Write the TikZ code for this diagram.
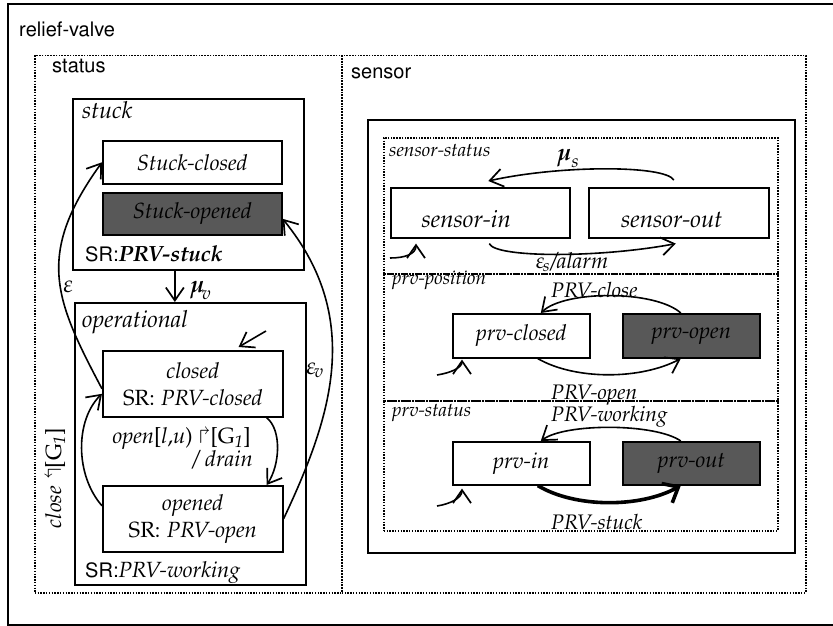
\documentclass[tikz,border=0pt]{standalone}
\usepackage[T1]{fontenc}
\usepackage{amsmath,amssymb}
\usepackage[sc]{mathpazo}
\usepackage{helvet}
\usetikzlibrary{arrows.meta}

\definecolor{stategray}{RGB}{88,88,88}

% font shortcuts
\newcommand\fSans{\fontsize{20}{23}\selectfont\sffamily}
\newcommand\fState{\fontsize{22}{27}\selectfont}
\newcommand\fBig{\fontsize{24}{28}\selectfont\itshape}
\newcommand\fReg{\fontsize{23.5}{28}\selectfont\itshape}
\newcommand\fSmall{\fontsize{19}{22}\selectfont\itshape}
\newcommand\fLab{\fontsize{22}{26}\selectfont}
\newcommand\fTr{\fontsize{21}{25}\selectfont\itshape}
\newcommand\fSym{\fontsize{24}{28}\selectfont}

\tikzset{
  region/.style={draw, line width=1.5pt, dash pattern=on 1.5pt off 1.3pt,
    inner sep=0pt, anchor=north west},
  frame/.style={draw, line width=1.7pt, inner sep=0pt, anchor=north west},
  state/.style={draw, line width=1.6pt, fill=white, inner sep=0pt,
    anchor=north west, align=center, font=\fState},
  darkstate/.style={state, fill=stategray},
  tr/.style={line width=1.6pt,
    -{Straight Barb[length=13pt,width=18pt,line width=1.7pt]}},
  thicktr/.style={line width=3.6pt,
    -{Straight Barb[length=13pt,width=22pt,line width=3.6pt]}},
  lab/.style={inner sep=0pt, anchor=base west},
}

\begin{document}
\begin{tikzpicture}[x=1pt,y=-1pt]
\useasboundingbox (0,0) rectangle (833,626);

% outer frame (runs off the right and bottom edges)
\begin{scope}
  \clip (0,0) rectangle (833,626);
  \draw[line width=1.6pt] (8,4) rectangle (900,624.8);
\end{scope}
\node[lab, font=\fSans] (relief) at (19,37) {relief-valve};

% orthogonal regions
\node[region, minimum width=307, minimum height=537] (status) at (34,55) {};
\node[region, minimum width=464, minimum height=537] (sensorreg) at (341,55) {};
\node[lab, font=\fSans] (statuslab) at (52,73) {status};
\node[lab, font=\fSans] (sensorlab) at (351,78) {sensor};

% ---------- status side ----------
\node[frame, minimum width=231, minimum height=171] (stuck) at (72,98) {};
\node[lab, font=\fReg] (stucklab) at (82,118) {stuck};
\node[state, minimum width=179, minimum height=43] (stuckclosed) at (102,140) {\itshape Stuck-closed};
\node[darkstate, minimum width=179, minimum height=42] (stuckopened) at (102,192) {\itshape Stuck-opened};
\node[lab] (stuckSR) at (85,261) {\fSans SR:\rmfamily\fLab\bfseries\itshape PRV-stuck};

\node[frame, minimum width=231, minimum height=282] (operational) at (74,302) {};
\node[lab, font=\fReg] (oplab) at (82,327) {operational};
\node[state, minimum width=180, minimum height=66] (closed) at (102,350) {\textit{closed}\\SR: \textit{PRV-closed}};
\node[state, minimum width=180, minimum height=66] (opened) at (102,485) {\textit{opened}\\SR: \textit{PRV-open}};
\node[lab] (opSR) at (85,577) {\fSans SR:\rmfamily\fLab\itshape PRV-working};

% transitions of the status region
\draw[tr] ([xshift=-13.5]stuck.south) -- ([xshift=-15.5]operational.north);
\node[font=\fSym, inner sep=0pt, anchor=base west] (mulab) at (190,292) {$\boldsymbol{\mu}_{\!v}$};

\draw[tr] ([yshift=-5]closed.west) .. controls (55,300) and (35,255) .. (stuckclosed.west);
\node[font=\fSym, inner sep=0pt, anchor=base west] (epslab) at (63,292) {$\varepsilon$};

\draw[tr] (opened.east) .. controls (330,420) and (365,320) .. ([yshift=-5]stuckopened.east);
\node[font=\fSym, inner sep=0pt, anchor=base west] (epsvlab) at (306,374) {$\varepsilon_{\!v}$};

\draw[tr] ([yshift=13]opened.west) .. controls (75,475) and (75,420) .. ([yshift=-10]closed.west);
\node[font=\fLab, inner sep=0pt, rotate=90, anchor=base] (closelab) at (61,478)
  {\textit{close} $\Lsh$[G\textsubscript{\textit{1}}]};

\draw[tr] ([xshift=-17]closed.south east) .. controls (282,430) and (280,465) .. ([xshift=-17]opened.north east);
\node[font=\fLab, inner sep=0pt, anchor=base east] (openlab) at (251,443)
  {\textit{open}[\textit{l},\textit{u}) $\Rsh$[G\textsubscript{\textit{1}}]};
\node[font=\fLab, inner sep=0pt, anchor=base east] (drainlab) at (253,466) {\textit{/ drain}};

\coordinate (opinit) at (266,331);
\draw[tr] (opinit) -- ([xshift=-45,yshift=3]closed.north east);

% ---------- sensor side ----------
\node[frame, minimum width=427, minimum height=433] (sensorbox) at (367,119) {};
\node[region, minimum width=394, minimum height=136] (sstatus) at (383,137) {};
\node[region, minimum width=394, minimum height=127] (pposition) at (383,273) {};
\node[region, minimum width=394, minimum height=130] (pstatus) at (383,400) {};
\node[lab, font=\fSmall] (sstatuslab) at (389,156) {sensor-status};
\node[lab, font=\fSmall] (ppositionlab) at (392,284) {prv-position};
\node[lab, font=\fSmall] (pstatuslab) at (392,416) {prv-status};

% sensor-status
\node[state, font=\fBig, minimum width=179, minimum height=50, text height=30pt, text depth=0pt]
  (sensorin) at (390,187) {sensor-in\kern28pt};
\node[state, font=\fBig, minimum width=180, minimum height=50, text height=30pt, text depth=0pt]
  (sensorout) at (588,187) {sensor-out\kern14pt};
\draw[tr] ([xshift=-5,yshift=7]sensorout.north) .. controls (665,165) and (560,165) .. ([xshift=8,yshift=6]sensorin.north);
\node[font=\fSym, inner sep=0pt, anchor=base west] (muslab) at (557,160) {$\boldsymbol{\mu}_{s}$};
\draw[tr] ([xshift=9,yshift=-5]sensorin.south) .. controls (495,258) and (600,258) .. ([xshift=-3,yshift=-5]sensorout.south);
\node[font=\fLab, inner sep=0pt, anchor=base] (alarmlab) at (572,268) {$\varepsilon_{\!s}$\textit{/alarm}};
\coordinate (sinit) at (390,258);
\draw[tr] (sinit) .. controls (405,258) and (416,254) .. ([xshift=26,yshift=-5]sensorin.south west);

% prv-position
\node[state, minimum width=137, minimum height=44] (prvclosed) at (452,313) {\itshape prv-closed};
\node[darkstate, minimum width=137, minimum height=44] (prvopen) at (622,313) {\itshape prv-open};
\draw[tr] ([xshift=-10.5]prvopen.north) .. controls (655,290) and (565,290) .. ([xshift=19.5]prvclosed.north);
\node[lab, font=\fTr] (closelab2) at (551,297) {PRV-close};
\draw[tr] ([xshift=16.5]prvclosed.south) .. controls (575,380) and (640,380) .. ([xshift=-10.5]prvopen.south);
\node[lab, font=\fTr] (openlab2) at (551,399) {PRV-open};
\coordinate (pcinit) at (437,375);
\draw[tr] (pcinit) .. controls (450,373) and (462,368) .. ([xshift=10,yshift=-1]prvclosed.south west);

% prv-status
\node[state, minimum width=137, minimum height=43] (prvin) at (452,441) {\itshape prv-in};
\node[darkstate, minimum width=137, minimum height=43] (prvout) at (622,441) {\itshape prv-out};
\draw[tr] ([xshift=-10.5]prvout.north) .. controls (655,423) and (565,423) .. ([xshift=19.5]prvin.north);
\node[lab, font=\fTr] (worklab) at (551,421) {PRV-working};
\draw[thicktr] ([xshift=16.5]prvin.south) .. controls (575,508) and (640,508) .. ([xshift=-10.5]prvout.south);
\node[lab, font=\fTr] (stucklab2) at (551,529) {PRV-stuck};
\coordinate (piinit) at (437,506);
\draw[tr] (piinit) .. controls (450,504) and (462,498) .. ([xshift=10,yshift=-3]prvin.south west);

\end{tikzpicture}
\end{document}
